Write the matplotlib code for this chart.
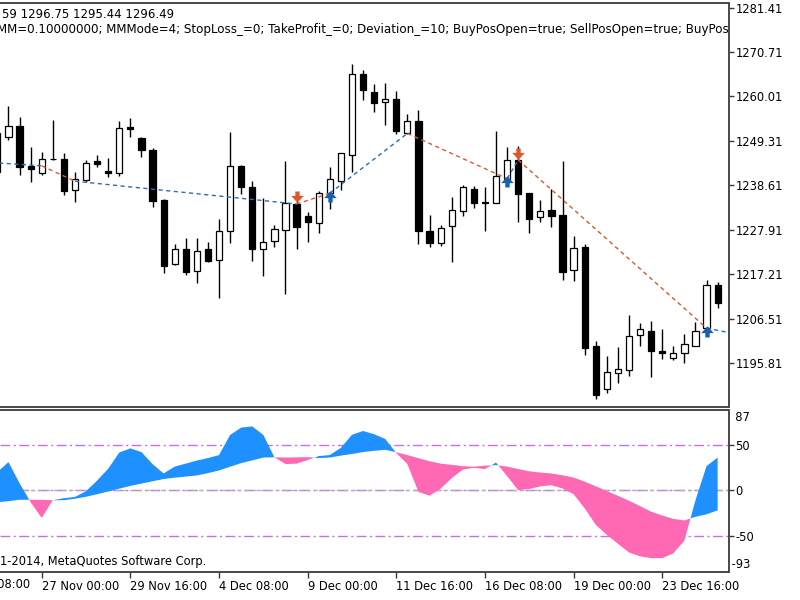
import numpy as np
import matplotlib
matplotlib.use("Agg")
import matplotlib.pyplot as plt
from matplotlib.path import Path

plt.rcParams['font.family'] = ['DejaVu Sans']
plt.rcParams['font.size'] = 8.3

# H8 candles, bar index 0..65
opens = [1251.2, 1250.2, 1253.0, 1243.3, 1241.5, 1245.0, 1245.0, 1237.5, 1239.9, 1244.5,
         1242.1, 1241.5, 1252.7, 1250.1, 1247.1, 1235.1, 1219.6, 1223.3, 1218.0, 1223.3,
         1220.6, 1227.5, 1243.3, 1238.3, 1223.2, 1225.2, 1227.9, 1234.1, 1231.1, 1229.5,
         1236.7, 1239.7, 1245.9, 1265.4, 1261.0, 1258.6, 1259.4, 1251.1, 1254.1, 1227.7,
         1224.8, 1228.7, 1232.5, 1237.7, 1234.5, 1234.4, 1240.2, 1244.7, 1236.7, 1230.9,
         1232.7, 1231.5, 1218.2, 1223.7, 1199.8, 1189.5, 1193.5, 1194.1, 1202.5, 1203.6,
         1198.7, 1197.1, 1198.2, 1200.0, 1204.2, 1214.6]
highs = [1252.4, 1257.8, 1255.0, 1247.8, 1246.7, 1254.3, 1246.3, 1241.9, 1244.7, 1245.8,
         1245.1, 1254.1, 1254.8, 1250.2, 1247.5, 1235.2, 1224.4, 1226.0, 1226.0, 1225.0,
         1230.4, 1251.4, 1243.4, 1239.7, 1235.6, 1229.1, 1244.5, 1236.3, 1232.1, 1237.3,
         1243.1, 1246.5, 1267.8, 1266.4, 1263.0, 1263.2, 1261.4, 1255.7, 1256.8, 1231.5,
         1229.1, 1235.9, 1238.7, 1238.5, 1238.1, 1251.8, 1247.8, 1248.1, 1236.8, 1235.1,
         1237.7, 1244.5, 1226.4, 1224.4, 1201.0, 1197.5, 1199.6, 1207.4, 1205.4, 1206.0,
         1204.0, 1199.8, 1202.8, 1205.8, 1215.8, 1215.4]
lows = [1240.9, 1249.5, 1241.1, 1239.5, 1241.1, 1244.7, 1236.3, 1234.7, 1239.3, 1243.1,
        1240.6, 1240.9, 1250.2, 1245.5, 1233.5, 1217.4, 1219.4, 1217.0, 1215.2, 1220.1,
        1211.4, 1224.7, 1236.5, 1220.5, 1216.8, 1223.8, 1212.5, 1223.2, 1225.0, 1227.1,
        1232.8, 1237.5, 1241.9, 1259.2, 1256.2, 1253.1, 1251.0, 1251.0, 1224.5, 1223.8,
        1224.1, 1220.1, 1231.1, 1233.1, 1227.5, 1234.3, 1239.7, 1229.7, 1227.1, 1229.7,
        1228.5, 1215.8, 1215.6, 1197.8, 1187.1, 1188.5, 1191.1, 1192.7, 1199.9, 1192.5,
        1196.8, 1196.6, 1195.8, 1199.8, 1204.0, 1209.0]
closes = [1241.9, 1253.0, 1243.1, 1242.5, 1245.0, 1244.9, 1237.3, 1240.1, 1243.9, 1243.8,
          1241.5, 1252.4, 1252.2, 1247.0, 1234.9, 1219.2, 1223.3, 1217.8, 1222.9, 1220.4,
          1227.6, 1243.3, 1238.3, 1223.2, 1225.0, 1228.0, 1234.4, 1228.5, 1229.7, 1236.7,
          1240.1, 1246.3, 1265.4, 1261.6, 1258.5, 1259.4, 1251.8, 1254.1, 1227.5, 1224.8,
          1228.4, 1232.7, 1238.1, 1234.4, 1234.4, 1240.9, 1244.7, 1236.5, 1230.5, 1232.3,
          1231.2, 1217.8, 1223.6, 1199.5, 1188.1, 1193.6, 1194.3, 1202.3, 1204.0, 1198.6,
          1198.2, 1198.3, 1200.3, 1203.6, 1214.6, 1210.2]

# oscillator: the two lines of the colour filling
fast_line = [19.9, 30.9, 7.7, -13.2, -30.5, -11.0, -8.8, -7.4, -1.1, 10.6,
             23.6, 41.4, 46.0, 41.9, 28.7, 18.4, 25.9, 29.2, 32.6, 35.3,
             38.6, 60.7, 68.8, 70.1, 60.7, 36.2, 28.7, 29.2, 33.1, 37.5,
             38.6, 46.6, 60.9, 65.1, 61.5, 56.3, 40.8, 28.7, -1.9, -6.1,
             1.7, 13.2, 22.6, 24.6, 23.2, 30.4, 15.5, 0.0, 1.3, 4.2,
             5.5, 1.9, -4.4, -19.9, -38.0, -49.2, -58.8, -68.4, -72.7, -74.7,
             -74.7, -69.4, -55.5, -11.0, 26.5, 35.9]
slow_line = [-13.2, -12.1, -10.5, -10.5, -10.5, -11.0, -11.0, -9.4, -7.2, -4.4,
             -1.4, 1.7, 4.7, 7.3, 9.8, 12.3, 13.8, 15.0, 16.2, 18.8,
             21.7, 25.8, 29.8, 32.8, 35.9, 36.2, 35.9, 36.1, 36.4, 35.3,
             35.9, 38.0, 39.8, 41.9, 43.3, 44.4, 41.7, 38.6, 35.2, 31.9,
             29.2, 27.9, 26.4, 25.9, 27.0, 27.6, 25.9, 23.3, 20.8, 19.4,
             18.4, 16.4, 13.9, 9.4, 4.4, -0.9, -6.2, -11.6, -17.5, -23.6,
             -27.8, -31.5, -33.2, -29.2, -26.5, -22.1]

# tester deal lines (bar, price); segment colour alternates buy / sell
deal_bars = [0, 4, 7, 27, 30, 37, 46, 47, 64, 66.5]
deal_prices = [1244.0, 1243.3, 1239.6, 1234.1, 1236.7, 1251.1, 1240.2, 1244.7, 1204.2, 1202.9]
deal_sides = ['buy', 'sell', 'buy', 'sell', 'buy', 'sell', 'buy', 'sell', 'buy']

sell_bars = [27, 47]
sell_marks = [1236.1, 1246.3]
buy_bars = [30, 46, 64]
buy_marks = [1235.7, 1239.3, 1203.4]

price_ticks = [1281.41, 1270.71, 1260.01, 1249.31, 1238.61, 1227.91, 1217.21, 1206.51, 1195.81]
osc_levels = [50, 0, -50]
osc_edges = ['87', '-93']
date_ticks = [-4, 4, 12, 20, 28, 36, 44, 52, 60]
date_labels = ['24 Nov 08:00', '27 Nov 00:00', '29 Nov 16:00', '4 Dec 08:00', '9 Dec 00:00',
               '11 Dec 16:00', '16 Dec 08:00', '19 Dec 00:00', '23 Dec 16:00']

header_1 = '59 1296.75 1295.44 1296.49'
header_2 = ('MM=0.10000000; MMMode=4; StopLoss_=0; TakeProfit_=0; Deviation_=10; '
            'BuyPosOpen=true; SellPosOpen=true; BuyPosClose=true; SellPosClose=true')
copyright_txt = '1-2014, MetaQuotes Software Corp.'

FRAME = '#3a3a3a'
BUY_COL = '#2a6db5'
SELL_COL = '#e0572d'

fig = plt.figure(figsize=(8, 6), dpi=100)
ax = fig.add_axes([0, 1 - 406.7 / 600, 728.5 / 800, 403.7 / 600])
ax2 = fig.add_axes([0, 1 - 572 / 600, 728.5 / 800, 162.5 / 600])

x = np.arange(len(opens))
o = np.array(opens)
c = np.array(closes)
up = c >= o

# candles
ax.vlines(x, lows, highs, color='black', linewidth=1, zorder=2)
ax.bar(x, np.abs(c - o), bottom=np.minimum(o, c), width=0.56,
       color=np.where(up, 'white', 'black'), edgecolor='black', linewidth=0.9, zorder=3)

# deal lines
for k, side in enumerate(deal_sides):
    ax.plot(deal_bars[k:k + 2], deal_prices[k:k + 2], color=BUY_COL if side == 'buy' else SELL_COL,
            linewidth=1, linestyle=(0, (3, 2.5)), zorder=4)

# deal arrows
down_arrow = Path([(-0.35, 0.8), (0.35, 0.8), (0.35, 0.1), (1, 0.1), (0, -1), (-1, 0.1), (-0.35, 0.1), (-0.35, 0.8)],
                  [1, 2, 2, 2, 2, 2, 2, 79])
up_arrow = Path([(px, -py) for px, py in down_arrow.vertices], down_arrow.codes)
ax.plot(sell_bars, sell_marks, linestyle='none', marker=down_arrow, markersize=9,
        color=SELL_COL, markeredgewidth=0, zorder=5)
ax.plot(buy_bars, buy_marks, linestyle='none', marker=up_arrow, markersize=9,
        color='#1560b0', markeredgewidth=0, zorder=5)

xlim = (0.235, 65.98)
ax.set_xlim(xlim)
ax.set_ylim(1185.3, 1282.5)
ax.set_xticks([])
ax.yaxis.tick_right()
ax.set_yticks(price_ticks)
ax.set_yticklabels([f'{t:.2f}' for t in price_ticks])
ax.tick_params(axis='y', direction='out', length=3.5, width=1, pad=1.5, color=FRAME)
ax.spines['left'].set_visible(False)
for s in ['top', 'right', 'bottom']:
    ax.spines[s].set_color(FRAME)
    ax.spines[s].set_linewidth(1.3)

# header lines, cut at the window edges like in the terminal
ax.text(0.0023, 1 - 11 / 403.7, header_1, transform=ax.transAxes, va='center', ha='left', fontsize=8.5)
ax.text(-0.004, 1 - 27 / 403.7, header_2, transform=ax.transAxes, va='center', ha='left',
        fontsize=8.55, clip_on=True)

# oscillator
xf = np.array(x, dtype=float)
fa = np.array(fast_line)
sl = np.array(slow_line)
ax2.fill_between(xf, fa, sl, where=fa >= sl, interpolate=True, color='#1e90ff', linewidth=0)
ax2.fill_between(xf, fa, sl, where=fa <= sl, interpolate=True, color='#ff69b4', linewidth=0)
for lv in osc_levels:
    ax2.axhline(lv, color='#c86ee6', linewidth=1, linestyle=(0, (7, 2.5, 1.5, 2.5)), zorder=0.5)
ax2.axhline(0, color='#b4b4b4', linewidth=1, linestyle=(0, (3, 2.5)), zorder=0.6)

ax2.set_xlim(xlim)
ax2.set_ylim(-89.9, 88.7)
ax2.yaxis.tick_right()
ax2.set_yticks(osc_levels)
ax2.set_yticklabels([str(v) for v in osc_levels])
ax2.tick_params(axis='y', direction='out', length=3.5, width=1, pad=1.5, color=FRAME)
ax2.text(1.0, 1 - 8 / 162.5, '  ' + osc_edges[0], transform=ax2.transAxes, va='center', ha='left')
ax2.text(1.0, 7 / 162.5, ' ' + osc_edges[1], transform=ax2.transAxes, va='center', ha='left')

ax2.set_xticks(date_ticks[1:])
ax2.set_xticklabels(date_labels[1:])
for lab in ax2.get_xticklabels():
    lab.set_horizontalalignment('left')
ax2.tick_params(axis='x', direction='out', length=4, width=1, pad=2, color=FRAME)
# first date label sits left of the window, only its tail shows
ax2.text(date_ticks[0], -0.04, date_labels[0], transform=ax2.get_xaxis_transform(),
         va='top', ha='left', fontsize=8.3)
ax2.spines['left'].set_visible(False)
for s in ['top', 'right', 'bottom']:
    ax2.spines[s].set_color(FRAME)
    ax2.spines[s].set_linewidth(1.3)

ax2.text(0.0, 11 / 162.5, copyright_txt, transform=ax2.transAxes, va='center', ha='left')

fig.savefig('out.png', dpi=100, facecolor='white')
